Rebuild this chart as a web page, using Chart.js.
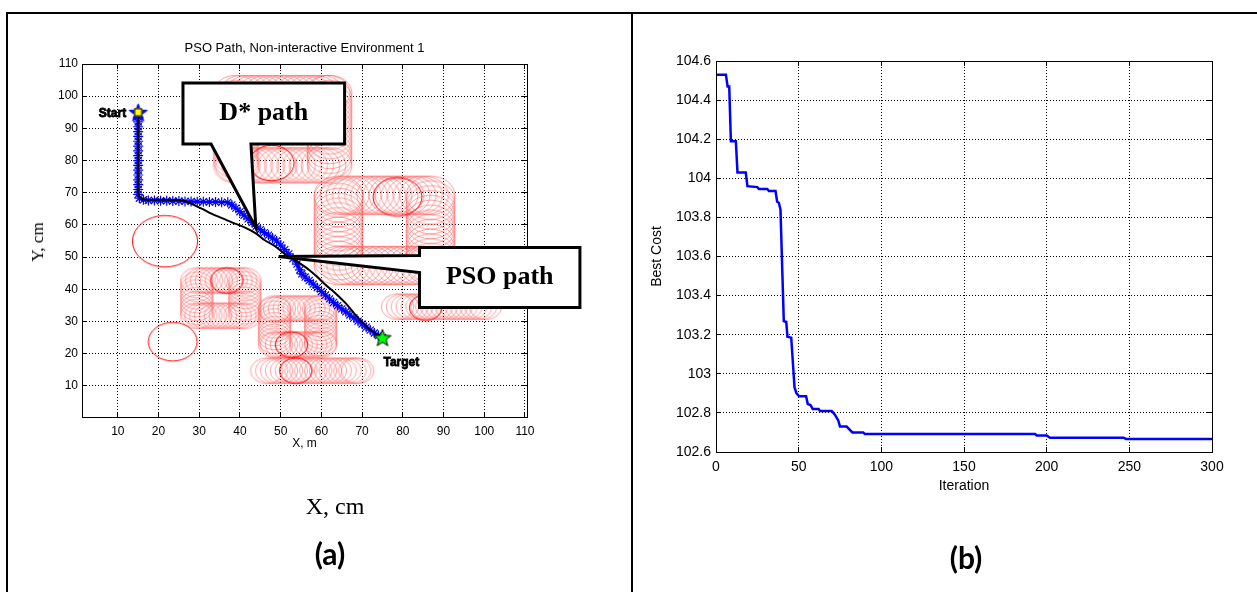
<!DOCTYPE html>
<html><head><meta charset="utf-8">
<script src="https://cdn.jsdelivr.net/npm/chart.js@4.4.1/dist/chart.umd.min.js"></script>
<style>
html,body{margin:0;padding:0;background:#fff;}
#wrap{position:relative;width:1257px;height:592px;overflow:hidden;background:#fff;}
canvas{position:absolute;top:0;}
#c1{left:0;} #c2{left:632px;}
.bl{position:absolute;background:#000;}
.t{position:absolute;white-space:nowrap;transform:translate(-50%,-50%);color:#000;line-height:1;}
</style></head><body>
<div id="wrap">
<canvas id="c1" width="632" height="592"></canvas>
<canvas id="c2" width="625" height="592"></canvas>
<div class="bl" style="left:6px;top:12px;width:1251px;height:2px"></div>
<div class="bl" style="left:6px;top:12px;width:2px;height:580px"></div>
<div class="bl" style="left:631px;top:12px;width:2px;height:580px"></div>
<div class="t" style="left:38px;top:242px;font:17px 'Liberation Serif';transform:translate(-50%,-50%) rotate(-90deg)">Y, cm</div>
<div class="t" style="left:335px;top:506px;font:24px 'Liberation Serif'">X, cm</div>
<div class="t" style="left:330px;top:553px;font:bold 30px Lato">(a)</div>
<div class="t" style="left:966px;top:557px;font:bold 30px Lato">(b)</div>
</div>
<script>
const FONT = "'Liberation Sans', Arial, Helvetica, sans-serif";

// ================= Panel (a) data =================
const xTicksA = [10,20,30,40,50,60,70,80,90,100,110];
const xTickLabelsA = ['10','20','30','40','50','60','70','80','90','100','110'];
const yTicksA = [10,20,30,40,50,60,70,80,90,100,110];
const yTickLabelsA = ['10','20','30','40','50','60','70','80','90','100','110'];

const startPoint = [15, 95];
const targetPoint = [75, 25];

const psoPathX = [15,15,15,15,15,15,15,15,15,15,15,15,15,15,15,15,15,15,15.3,16.3,17.5,19,20.5,22,23.5,25,26.5,28,29.5,31,32.5,34,35.5,37,38,39,40,41,42,43,44,45,46,47,48,49,50,51,52,53,54,54.7,55.2,56,57,58,59,60,61,62,63,64,65,66,67,68,69,70,71,72,73,74,75];
const psoPathY = [95,93.5,92,90.5,89,87.5,86,84.5,83,81.5,80,78.5,77,75.5,74,72.5,71,69.5,68.3,67.8,67.6,67.6,67.5,67.5,67.4,67.4,67.3,67.3,67.2,67.2,67.1,67.1,67,67,66.2,65.2,64.1,63,61.9,60.7,59.6,58.5,57.6,56.8,55.9,55,53.7,52.3,51,49.5,47.8,46,44.8,43.8,42.7,41.6,40.5,39.3,38.2,37,35.9,34.9,33.9,33,32,31.1,30.1,29.2,28.2,27.3,26.4,25.6,25];

const dstarPathX = [15,15,15.5,16.5,20,25,27,29,31,33,35,38,41,44,46,48.5,51,53,55,57,59,61,63.5,66,68,70,72,75];
const dstarPathY = [95,70,68.5,67.9,67.8,67.7,67.2,66,64.8,63.5,62.4,60.8,59.3,57.3,55.3,53.5,51,49.5,47.8,46,43.8,41.4,38.7,35.6,32.6,29.8,27.4,25];

// moving-obstacle traces (circle centres) and their radii
const trackA = [[39,101],[40.5,101],[42,101],[43.5,101],[45,101],[46.5,101],[48,101],[49.5,101],[51,101],[52.5,101],[54,101],[55.5,101],[57,101],[58.5,101],[60,101],[61.5,101],[62,101],[62,99.5],[62,98],[62,96.5],[62,95],[62,93.5],[62,92],[62,90.5],[62,89],[62,87.5],[62,86],[62,84.5],[62,83],[62,81.5],[62,80],[62,78.5],[60.5,78.5],[59,78.5],[57.5,78.5],[56,78.5],[54.5,78.5],[53,78.5],[51.5,78.5],[50,78.5],[48.5,78.5],[47,78.5],[45.5,78.5],[44,78.5],[42.5,78.5],[41,78.5],[39.5,78.5],[39,78.5],[39,80],[39,81.5],[39,83],[39,84.5],[39,86],[39,87.5],[39,89],[39,90.5],[39,92],[39,93.5],[39,95],[39,96.5],[39,98],[39,99.5]];
const trackB = [[64.2,69.2],[65.7,69.2],[67.2,69.2],[68.7,69.2],[70.2,69.2],[71.7,69.2],[73.2,69.2],[74.7,69.2],[76.2,69.2],[77.7,69.2],[79.2,69.2],[80.7,69.2],[82.2,69.2],[83.7,69.2],[85.2,69.2],[86.8,69.2],[86.8,67.7],[86.8,66.2],[86.8,64.7],[86.8,63.2],[86.8,61.7],[86.8,60.2],[86.8,58.7],[86.8,57.2],[86.8,55.7],[86.8,54.2],[86.8,52.7],[86.8,51.2],[86.8,49.7],[86.8,48.2],[86.8,47.4],[85.3,47.4],[83.8,47.4],[82.3,47.4],[80.8,47.4],[79.3,47.4],[77.8,47.4],[76.3,47.4],[74.8,47.4],[73.3,47.4],[71.8,47.4],[70.3,47.4],[68.8,47.4],[67.3,47.4],[65.8,47.4],[64.2,47.4],[64.2,48.9],[64.2,50.4],[64.2,51.9],[64.2,53.4],[64.2,54.9],[64.2,56.4],[64.2,57.9],[64.2,59.4],[64.2,60.9],[64.2,62.4],[64.2,63.9],[64.2,65.4],[64.2,66.9],[64.2,68.4]];
const trackC = [[29.4,42.7],[30.6,42.7],[31.8,42.7],[33,42.7],[34.2,42.7],[35.4,42.7],[36.6,42.7],[37.8,42.7],[39,42.7],[40.2,42.7],[41.2,42.7],[41.2,41.5],[41.2,40.3],[41.2,39.1],[41.2,37.9],[41.2,36.7],[41.2,35.5],[41.2,34.3],[41.2,33.1],[41.2,31.8],[40,31.8],[38.8,31.8],[37.6,31.8],[36.4,31.8],[35.2,31.8],[34,31.8],[32.8,31.8],[31.6,31.8],[30.4,31.8],[29.4,31.8],[29.4,33],[29.4,34.2],[29.4,35.4],[29.4,36.6],[29.4,37.8],[29.4,39],[29.4,40.2],[29.4,41.4]];
const trackD = [[48.5,34],[49.7,34],[50.9,34],[52.1,34],[53.3,34],[54.5,34],[55.7,34],[56.9,34],[58.1,34],[59.3,34],[59.8,34],[59.8,32.8],[59.8,31.6],[59.8,30.4],[59.8,29.2],[59.8,28],[59.8,26.8],[59.8,25.6],[59.8,24.4],[59.8,23.2],[59.8,22.8],[58.6,22.8],[57.4,22.8],[56.2,22.8],[55,22.8],[53.8,22.8],[52.6,22.8],[51.4,22.8],[50.2,22.8],[49,22.8],[48.5,22.8],[48.5,24],[48.5,25.2],[48.5,26.4],[48.5,27.6],[48.5,28.8],[48.5,30],[48.5,31.2],[48.5,32.4],[48.5,33.6]];
const trackE = [[46.6,14.7],[47.8,14.7],[49,14.7],[50.2,14.7],[51.4,14.7],[52.6,14.7],[53.8,14.7],[55,14.7],[56.2,14.7],[57.4,14.7],[58.6,14.7],[59.8,14.7],[61,14.7],[62.2,14.7],[63.4,14.7],[64.6,14.7],[65.8,14.7],[67,14.7],[68.2,14.7],[68.9,14.7]];
const trackF = [[78.7,34.6],[79.9,34.6],[81.1,34.6],[82.3,34.6],[83.5,34.6],[84.7,34.6],[85.9,34.6],[87.1,34.6],[88.3,34.6],[89.5,34.6],[90.7,34.6],[91.9,34.6],[93.1,34.6],[94.3,34.6],[95.5,34.6],[96.7,34.6],[97.9,34.6],[99.1,34.6],[100.3,34.6]];
const trackRadii = [5.5, 6, 4, 4, 4, 4];

// obstacles at their current positions (red)
const obstacleX = [47.8, 78.7, 21.6, 36.8, 23.5, 52.7, 53.7, 85.6];
const obstacleY = [79.2, 68.7, 54.9, 42.7, 23.7, 22.8, 14.7, 34.3];
const obstacleR = [5.5, 6, 8, 4, 6, 4, 4, 4];

// callouts (data coordinates): [left, top, right, bottom]
const dstarBox = [26.0, 104.1, 65.7, 85.1];
const dstarPointer = [32.9, 42.7, 43.9, 59.2]; // baseLeftX, baseRightX, tipX, tipY
const psoBox = [84.1, 53.0, 123.5, 34.3];
const psoPointer = [50.5, 45.2, 49.5, 50.2]; // baseTopY, baseBottomY, tipX, tipY

// ================= Panel (b) data =================
const iterations = [0,6,7,8,9,12,13,18,19,25,26,31,32,36,37,38,39,40.3,41,42.5,43.2,45.5,47.5,48.7,50.3,54.5,55.5,57.2,58.5,62,63,70,72,74,75,79,82.5,89,90,193,194,200,202,246.5,248,300];
const bestCost = [104.53,104.53,104.47,104.47,104.19,104.19,104.03,104.03,103.96,103.955,103.945,103.945,103.935,103.935,103.88,103.875,103.84,103.47,103.27,103.265,103.19,103.185,102.93,102.9,102.885,102.885,102.845,102.84,102.82,102.82,102.81,102.81,102.79,102.76,102.73,102.73,102.70,102.70,102.692,102.692,102.685,102.685,102.673,102.673,102.667,102.667];
const xTicksB = [0,50,100,150,200,250,300];
const xTickLabelsB = ['0','50','100','150','200','250','300'];
const yTicksB = [102.6,102.8,103,103.2,103.4,103.6,103.8,104,104.2,104.4,104.6];
const yTickLabelsB = ['102.6','102.8','103','103.2','103.4','103.6','103.8','104','104.2','104.4','104.6'];

// ================= helpers =================
const styleCache = {};
function ellipseStyle(chart, r, color, lw) {
  const xs = chart.scales.x, ys = chart.scales.y;
  const rx = Math.abs(xs.getPixelForValue(r) - xs.getPixelForValue(0));
  const ry = Math.abs(ys.getPixelForValue(r) - ys.getPixelForValue(0));
  const key = [r, color, lw, rx.toFixed(2), ry.toFixed(2)].join('|');
  if (styleCache[key]) return styleCache[key];
  const c = document.createElement('canvas');
  c.width = Math.ceil(2 * rx + 2 * lw + 2); c.height = Math.ceil(2 * ry + 2 * lw + 2);
  const g = c.getContext('2d');
  g.strokeStyle = color; g.lineWidth = lw;
  g.beginPath(); g.ellipse(c.width / 2, c.height / 2, Math.max(rx, 0.5), Math.max(ry, 0.5), 0, 0, Math.PI * 2); g.stroke();
  styleCache[key] = c; return c;
}
function pentagram(R, fill, stroke, lw, square) {
  const d = Math.ceil(R * 2 + lw * 2 + 4);
  const c = document.createElement('canvas'); c.width = c.height = d;
  const g = c.getContext('2d'); const cx = d / 2, cy = d / 2 + R * 0.1;
  g.beginPath();
  for (let i = 0; i < 10; i++) {
    const rr = i % 2 === 0 ? R : R * 0.42;
    const a = -Math.PI / 2 + i * Math.PI / 5;
    g.lineTo(cx + rr * Math.cos(a), cy + rr * Math.sin(a));
  }
  g.closePath(); g.fillStyle = fill; g.fill();
  g.lineWidth = lw; g.strokeStyle = stroke; g.lineJoin = 'miter'; g.stroke();
  if (square) {
    g.fillStyle = '#ffff00'; g.fillRect(d / 2 - 4, d / 2 - 4, 8, 8);
    g.lineWidth = 1; g.strokeStyle = '#000'; g.strokeRect(d / 2 - 4 + 0.5, d / 2 - 4 + 0.5, 7, 7);
  }
  return c;
}
const zipXY = (xs, ys) => xs.map((x, i) => ({ x, y: ys[i] }));
const pairs = arr => arr.map(p => ({ x: p[0], y: p[1] }));
const align = (p) => Math.round(p - 0.5) + 0.5;

const frameTicks = {
  id: 'frameTicks',
  afterDraw(chart) {
    const { ctx, chartArea: a } = chart; const xs = chart.scales.x, ys = chart.scales.y;
    const L = 5;
    ctx.save(); ctx.strokeStyle = '#000'; ctx.lineWidth = 1; ctx.setLineDash([]);
    ctx.beginPath();
    xs.ticks.forEach(t => { const p = align(xs.getPixelForValue(t.value));
      ctx.moveTo(p, a.bottom); ctx.lineTo(p, a.bottom - L); ctx.moveTo(p, a.top); ctx.lineTo(p, a.top + L); });
    ys.ticks.forEach(t => { const p = align(ys.getPixelForValue(t.value));
      ctx.moveTo(a.left, p); ctx.lineTo(a.left + L, p); ctx.moveTo(a.right, p); ctx.lineTo(a.right - L, p); });
    ctx.stroke();
    ctx.strokeRect(align(a.left), align(a.top), Math.round(a.right - a.left), Math.round(a.bottom - a.top));
    ctx.restore();
  }
};

const annotations = {
  id: 'annotations',
  afterDatasetsDraw(chart) {
    const { ctx } = chart; const xs = chart.scales.x, ys = chart.scales.y;
    const sx = xs.getPixelForValue(startPoint[0]), sy = ys.getPixelForValue(startPoint[1]);
    const tx = xs.getPixelForValue(targetPoint[0]), ty = ys.getPixelForValue(targetPoint[1]);
    ctx.save();
    ctx.font = 'bold 12px ' + FONT; ctx.fillStyle = '#000'; ctx.strokeStyle = '#000'; ctx.lineWidth = 0.8;
    ctx.textBaseline = 'middle';
    ctx.textAlign = 'right'; ctx.strokeText('Start', sx - 12, sy + 1); ctx.fillText('Start', sx - 12, sy + 1);
    ctx.textAlign = 'left'; ctx.strokeText('Target', tx + 1, ty + 25); ctx.fillText('Target', tx + 1, ty + 25);
    ctx.restore();
  },
  afterDraw(chart) {
    const { ctx } = chart; const xs = chart.scales.x, ys = chart.scales.y;
    const X = v => xs.getPixelForValue(v), Y = v => ys.getPixelForValue(v);
    ctx.save();
    ctx.lineWidth = 3; ctx.strokeStyle = '#000'; ctx.fillStyle = '#fff'; ctx.lineJoin = 'miter';
    // D* callout
    let [l, t, r, b] = dstarBox;
    ctx.beginPath();
    ctx.moveTo(X(l), Y(t)); ctx.lineTo(X(r), Y(t)); ctx.lineTo(X(r), Y(b));
    ctx.lineTo(X(dstarPointer[1]), Y(b)); ctx.lineTo(X(dstarPointer[2]), Y(dstarPointer[3]));
    ctx.lineTo(X(dstarPointer[0]), Y(b)); ctx.lineTo(X(l), Y(b)); ctx.closePath();
    ctx.fill(); ctx.stroke();
    ctx.fillStyle = '#000'; ctx.font = "bold 26px 'Liberation Serif', 'Times New Roman', serif";
    ctx.textAlign = 'center'; ctx.textBaseline = 'middle';
    ctx.fillText('D* path', (X(l) + X(r)) / 2, (Y(t) + Y(b)) / 2);
    // PSO callout
    [l, t, r, b] = psoBox;
    ctx.fillStyle = '#fff';
    ctx.beginPath();
    ctx.moveTo(X(l), Y(t)); ctx.lineTo(X(r), Y(t)); ctx.lineTo(X(r), Y(b)); ctx.lineTo(X(l), Y(b));
    ctx.lineTo(X(l), Y(psoPointer[1])); ctx.lineTo(X(psoPointer[2]), Y(psoPointer[3]));
    ctx.lineTo(X(l), Y(psoPointer[0])); ctx.closePath();
    ctx.fill(); ctx.stroke();
    ctx.fillStyle = '#000';
    ctx.fillText('PSO path', (X(l) + X(r)) / 2, (Y(t) + Y(b)) / 2);
    ctx.restore();
  }
};

const tracks = [trackA, trackB, trackC, trackD, trackE, trackF];
const pinkSets = tracks.map((tr, i) => ({
  data: pairs(tr), showLine: false, order: 20,
  pointRadius: 1, pointHoverRadius: 1,
  pointStyle: (c) => ellipseStyle(c.chart, trackRadii[i], 'rgba(255,100,100,0.6)', 1)
}));

const redData = obstacleX.map((x, i) => ({ x, y: obstacleY[i], r: obstacleR[i] }));

new Chart(document.getElementById('c1'), {
  type: 'scatter',
  data: {
    datasets: [
      ...pinkSets,
      { data: redData, showLine: false, order: 15, pointRadius: 1,
        pointStyle: (c) => ellipseStyle(c.chart, c.raw ? c.raw.r : 4, '#ff0000', 1) },
      { data: zipXY(psoPathX, psoPathY), showLine: true, order: 6, borderColor: '#0000ff', borderWidth: 2.5,
        pointStyle: 'star', pointRadius: 5, pointBorderColor: '#0000ff', pointBorderWidth: 1.2, pointBackgroundColor: '#0000ff', tension: 0 },
      { data: zipXY(dstarPathX, dstarPathY), showLine: true, order: 5, borderColor: '#000', borderWidth: 2, pointRadius: 0, tension: 0.3 },
      { data: [{ x: startPoint[0], y: startPoint[1] }], order: 1, pointRadius: 8,
        pointStyle: pentagram(9.5, '#0000ff', '#0000ff', 1, true) },
      { data: [{ x: targetPoint[0], y: targetPoint[1] }], order: 1, pointRadius: 8,
        pointStyle: pentagram(9, '#00ff00', '#000', 1, false) }
    ]
  },
  options: {
    responsive: false, animation: false, devicePixelRatio: 1,
    layout: { padding: { left: 42, right: 105, top: 0, bottom: 135 } },
    plugins: {
      legend: { display: false }, tooltip: { enabled: false },
      title: { display: true, fullSize: false, text: 'PSO Path, Non-interactive Environment 1', color: '#000',
        font: { family: FONT, size: 13, weight: 'normal' }, padding: { top: 41, bottom: 7.4 } }
    },
    scales: {
      x: { type: 'linear', min: 1.2, max: 110.5,
        afterBuildTicks: s => { s.ticks = xTicksA.map(v => ({ value: v })); },
        afterFit: s => { s.height = 40; },
        ticks: { callback: (v, i) => xTickLabelsA[i], color: '#000', font: { family: FONT, size: 12 }, padding: 7, maxRotation: 0, autoSkip: false },
        grid: { color: '#000', lineWidth: 1, drawTicks: false },
        border: { color: '#000', width: 1, dash: [1, 2] },
        title: { display: true, text: 'X, m', color: '#000', font: { family: FONT, size: 12 }, padding: { top: 0, bottom: 6 } } },
      y: { type: 'linear', min: 0.3, max: 110,
        afterBuildTicks: s => { s.ticks = yTicksA.map(v => ({ value: v })); },
        afterFit: s => { s.width = 40; },
        ticks: { callback: (v, i) => yTickLabelsA[i], color: '#000', font: { family: FONT, size: 12 }, padding: 4, autoSkip: false },
        grid: { color: '#000', lineWidth: 1, drawTicks: false },
        border: { color: '#000', width: 1, dash: [1, 2] } }
    }
  },
  plugins: [frameTicks, annotations]
});

new Chart(document.getElementById('c2'), {
  type: 'scatter',
  data: { datasets: [{ data: zipXY(iterations, bestCost), showLine: true, borderColor: '#0000ff', borderWidth: 2.5, pointRadius: 0, tension: 0 }] },
  options: {
    responsive: false, animation: false, devicePixelRatio: 1,
    layout: { padding: { left: 0, right: 45, top: 61, bottom: 90 } },
    plugins: { legend: { display: false }, tooltip: { enabled: false } },
    scales: {
      x: { type: 'linear', min: 0, max: 300,
        afterBuildTicks: s => { s.ticks = xTicksB.map(v => ({ value: v })); },
        afterFit: s => { s.height = 50; },
        ticks: { callback: (v, i) => xTickLabelsB[i], color: '#000', font: { family: FONT, size: 14 }, padding: 7, maxRotation: 0, autoSkip: false },
        grid: { color: '#000', lineWidth: 1, drawTicks: false },
        border: { color: '#000', width: 1, dash: [1, 2] },
        title: { display: true, text: 'Iteration', color: '#000', font: { family: FONT, size: 14 }, padding: { top: 0, bottom: 7.6 } } },
      y: { type: 'linear', min: 102.6, max: 104.6,
        afterBuildTicks: s => { s.ticks = yTicksB.map(v => ({ value: v })); },
        afterFit: s => { s.width = 84; },
        ticks: { callback: (v, i) => yTickLabelsB[i], color: '#000', font: { family: FONT, size: 14 }, padding: 5, autoSkip: false },
        grid: { color: '#000', lineWidth: 1, drawTicks: false },
        border: { color: '#000', width: 1, dash: [1, 2] },
        title: { display: true, text: 'Best Cost', color: '#000', font: { family: FONT, size: 14 }, padding: { top: 16.6, bottom: 0 } } }
    }
  },
  plugins: [frameTicks]
});
</script>
</body></html>
